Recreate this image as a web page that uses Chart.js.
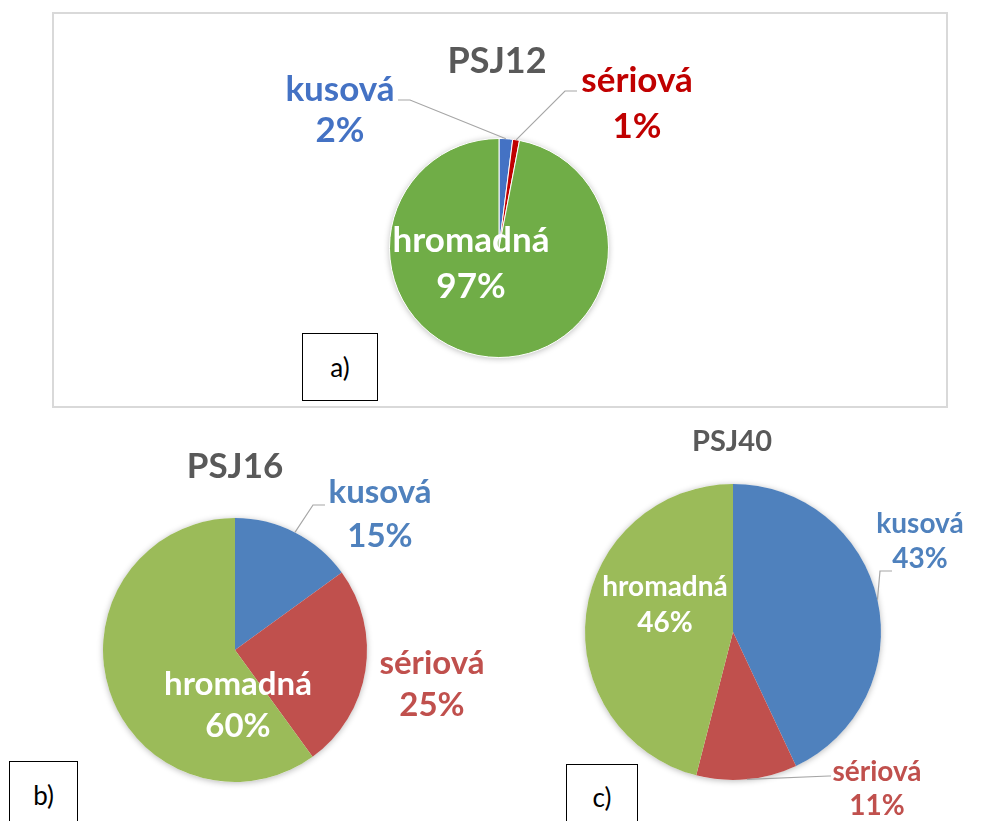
<!DOCTYPE html>
<html>
<head>
<meta charset="utf-8">
<script src="https://cdn.jsdelivr.net/npm/chart.js@4.4.0/dist/chart.umd.min.js"></script>
<style>
  body { margin: 0; background: #fff; }
  #page { position: relative; width: 984px; height: 821px; overflow: hidden; }
  #page canvas { position: absolute; left: 0; top: 0; }
  .frame { position: absolute; left: 52px; top: 12px; width: 892px; height: 392px; border: 2px solid #d9d9d9; }
  .tag { position: absolute; border: 1px solid #000; background: #fff; font: 26px Lato, sans-serif; color: #000;
         display: flex; align-items: center; justify-content: center; box-sizing: border-box; }
</style>
</head>
<body>
<div id="page">
  <div class="frame"></div>
  <canvas id="chartA" width="984" height="821"></canvas>
  <canvas id="chartB" width="984" height="821"></canvas>
  <canvas id="chartC" width="984" height="821"></canvas>
  <div class="tag" style="left:302px; top:333px; width:76px; height:68px;">a)</div>
  <div class="tag" style="left:9px; top:761px; width:69px; height:68px;">b)</div>
  <div class="tag" style="left:566px; top:764px; width:72px; height:66px;">c)</div>
</div>
<script>
  // data
  const categories = ['kusová', 'sériová', 'hromadná'];
  const psj12Values = [2, 1, 97];
  const psj16Values = [15, 25, 60];
  const psj40Values = [43, 11, 46];
  const chartTitles = ['PSJ12', 'PSJ16', 'PSJ40'];

  const officeColors = ['#4472C4', '#C00000', '#70AD47'];
  const classicColors = ['#4F81BD', '#C0504D', '#9BBB59'];
  const FONT = 'Lato, "Open Sans", sans-serif';

  // soft shadow under the whole pie + title and data labels
  const pieLabels = {
    id: 'pieLabels',
    beforeDatasetsDraw(chart, args, opts) {
      const arc = chart.getDatasetMeta(0).data[0];
      if (!arc) return;
      const { x, y, outerRadius } = arc.getProps(['x', 'y', 'outerRadius'], true);
      const ctx = chart.ctx;
      ctx.save();
      ctx.shadowColor = 'rgba(0,0,0,0.28)';
      ctx.shadowBlur = 6;
      ctx.shadowOffsetY = 1;
      ctx.beginPath();
      ctx.arc(x, y, outerRadius, 0, Math.PI * 2);
      ctx.fillStyle = '#fff';
      ctx.fill();
      ctx.restore();
    },
    afterDatasetsDraw(chart, args, opts) {
      const ctx = chart.ctx;
      const meta = chart.getDatasetMeta(0);
      const values = chart.data.datasets[0].data;
      const total = values.reduce((a, b) => a + b, 0);
      const first = meta.data[0].getProps(['x', 'y'], true);
      const cx = first.x, cy = first.y;

      ctx.save();
      ctx.textAlign = 'center';
      ctx.textBaseline = 'alphabetic';
      ctx.fillStyle = '#595959';
      ctx.font = 'bold ' + opts.titleSize + 'px ' + FONT;
      ctx.fillText(opts.title, cx + opts.titlePos[0], cy + opts.titlePos[1]);

      meta.data.forEach((el, i) => {
        const p = el.getProps(['x', 'y', 'startAngle', 'endAngle', 'outerRadius'], true);
        const mid = (p.startAngle + p.endAngle) / 2;
        const lab = opts.labels[i];
        if (lab.leader) {
          ctx.strokeStyle = '#a6a6a6';
          ctx.lineWidth = 1.2;
          ctx.beginPath();
          ctx.moveTo(cx + lab.leader[0][0], cy + lab.leader[0][1]);
          ctx.lineTo(cx + lab.leader[1][0], cy + lab.leader[1][1]);
          ctx.lineTo(p.x + Math.cos(mid) * p.outerRadius, p.y + Math.sin(mid) * p.outerRadius);
          ctx.stroke();
        }
        ctx.fillStyle = lab.inside ? '#fff' : chart.data.datasets[0].backgroundColor[i];
        ctx.font = 'bold ' + opts.labelSize + 'px ' + FONT;
        const pct = Math.round(values[i] / total * 100) + '%';
        ctx.fillText(chart.data.labels[i], cx + lab.pos[0], cy + lab.pos[1]);
        ctx.fillText(pct, cx + lab.pos[0], cy + lab.pos[1] + lab.gap);
      });
      ctx.restore();
    }
  };

  function makePie(id, values, colors, border, box, labelOpts) {
    // box = pie centre and radius on the page; padding puts the pie there
    const [cx, cy, r] = box;
    return new Chart(document.getElementById(id), {
      type: 'pie',
      data: {
        labels: categories,
        datasets: [{
          data: values,
          backgroundColor: colors,
          borderColor: '#fff',
          borderWidth: border
        }]
      },
      options: {
        responsive: false,
        animation: false,
        events: [],
        layout: { padding: { left: cx - r, top: cy - r, right: 984 - cx - r, bottom: 821 - cy - r } },
        plugins: {
          legend: { display: false },
          tooltip: { enabled: false },
          title: { display: false },
          pieLabels: labelOpts
        }
      },
      plugins: [pieLabels]
    });
  }

  makePie('chartA', psj12Values, officeColors, 1, [499, 248, 110], {
    title: chartTitles[0], titleSize: 36, titlePos: [-2, -175], labelSize: 35,
    labels: [
      { pos: [-159, -147], gap: 41, leader: [[-101, -148], [-89, -148]] },
      { pos: [138, -156], gap: 46, leader: [[78, -157], [66, -157]] },
      { pos: [-28, 4], gap: 46, inside: true }
    ]
  });

  makePie('chartB', psj16Values, classicColors, 0, [235, 650, 132], {
    title: chartTitles[1], titleSize: 35, titlePos: [0, -172], labelSize: 33,
    labels: [
      { pos: [145, -147], gap: 44, leader: [[90, -145], [78, -145]] },
      { pos: [197, 24], gap: 42 },
      { pos: [3, 45], gap: 42, inside: true }
    ]
  });

  makePie('chartC', psj40Values, classicColors, 0, [733, 632, 148], {
    title: chartTitles[2], titleSize: 29, titlePos: [-1, -181], labelSize: 28,
    labels: [
      { pos: [187, -99], gap: 35, leader: [[159, -61], [147, -61]] },
      { pos: [144, 149], gap: 34, leader: [[98, 144], [96, 144]] },
      { pos: [-68, -36], gap: 36, inside: true }
    ]
  });
</script>
</body>
</html>
